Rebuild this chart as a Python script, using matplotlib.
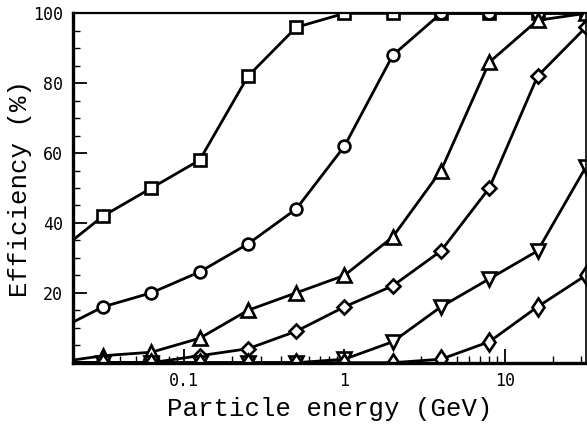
import numpy as np
import matplotlib.pyplot as plt
from matplotlib.ticker import FixedLocator, LogLocator, NullFormatter, MultipleLocator

# particle energies (GeV), first point lies just left of the visible axis
energy = [1/64, 1/32, 1/16, 1/8, 1/4, 1/2, 1, 2, 4, 8, 16, 32]

eff_square = [31, 42, 50, 58, 82, 96, 100, 100, 100, 100, 100, 100]
eff_circle = [9, 16, 20, 26, 34, 44, 62, 88, 100, 100, 100, 100]
eff_tri_up = [0, 2, 3, 7, 15, 20, 25, 36, 55, 86, 98, 100]
eff_diamond = [0, 0, 0, 2, 4, 9, 16, 22, 32, 50, 82, 96]
eff_tri_down = [0, 0, 0, 0, 0, 0, 1, 6, 16, 24, 32, 56]
eff_thin_diamond = [0, 0, 0, 0, 0, 0, 0, 0, 1, 6, 16, 25]

x_ticks = [0.1, 1, 10]
x_ticklabels = ["0.1", "1", "10"]
y_ticks = [20, 40, 60, 80, 100]

fig = plt.figure(figsize=(5.87, 4.25), dpi=100)
ax = fig.add_axes([0.124, 0.1466, 0.874, 0.822])

series = [
    (eff_square, 's'),
    (eff_circle, 'o'),
    (eff_tri_up, '^'),
    (eff_diamond, 'D'),
    (eff_tri_down, 'v'),
    (eff_thin_diamond, 'd'),
]
for vals, mk in series:
    ms = 8.5 if mk in ('s', 'o') else 9.5
    if mk == 'D':
        ms = 7
    ax.plot(energy, vals, color='black', linewidth=2.0, marker=mk,
            markersize=ms, markerfacecolor='white', markeredgecolor='black',
            markeredgewidth=1.9)

ax.set_xscale('log')
ax.set_xlim(0.0202, 32)
ax.set_ylim(0, 100)

ax.xaxis.set_major_locator(FixedLocator(x_ticks))
ax.set_xticklabels(x_ticklabels)
ax.xaxis.set_minor_locator(LogLocator(base=10, subs=np.arange(2, 10)))
ax.xaxis.set_minor_formatter(NullFormatter())
ax.yaxis.set_major_locator(FixedLocator(y_ticks))
ax.yaxis.set_minor_locator(MultipleLocator(5))

ax.tick_params(which='major', direction='in', length=10, width=1.3,
               top=False, right=False, labelsize=12, pad=7)
ax.tick_params(which='minor', direction='in', length=5, width=1.0,
               top=False, right=False)
for lab in ax.get_xticklabels() + ax.get_yticklabels():
    lab.set_family('DejaVu Sans Mono')

ax.spines['left'].set_linewidth(2.4)
ax.spines['bottom'].set_linewidth(2.4)
ax.spines['top'].set_linewidth(1.6)
ax.spines['right'].set_linewidth(1.2)

ax.set_xlabel("Particle energy (GeV)", family='Liberation Mono', fontsize=18.5, labelpad=5)
ax.set_ylabel("Efficiency (%)", family='Liberation Mono', fontsize=18.5, labelpad=1)

fig.savefig("out.png", dpi=100)
